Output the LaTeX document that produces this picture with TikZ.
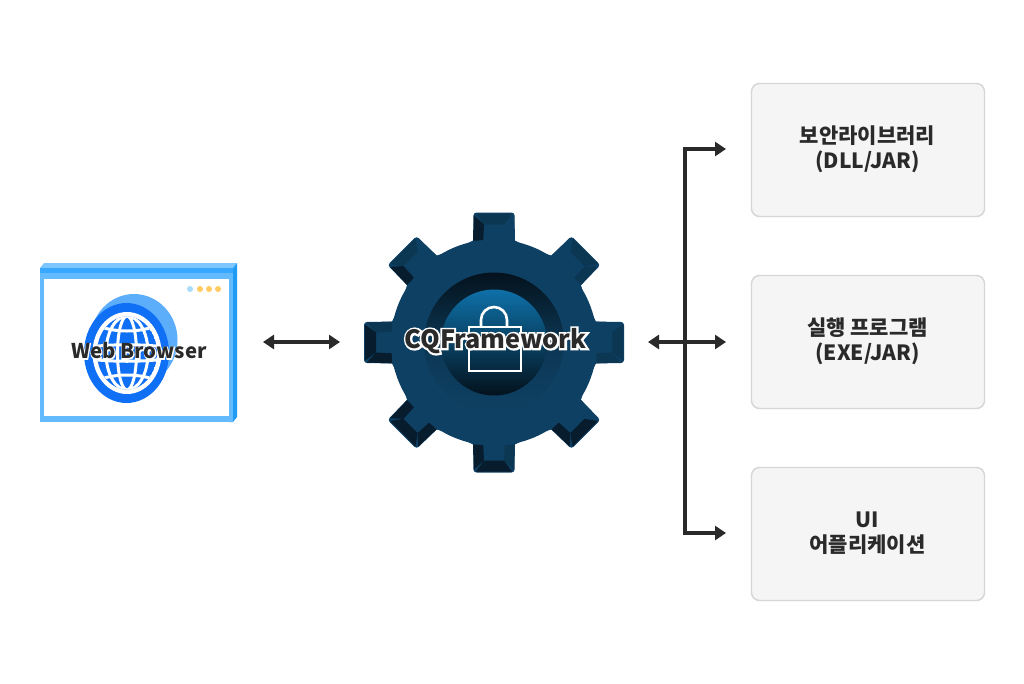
\documentclass[tikz,border=0pt]{standalone}
\usepackage{fontspec}
\setmainfont{Noto Sans CJK KR}
\newfontfamily\gearhalo[UprightFont=* Bold,FakeBold=15]{Noto Sans CJK KR}
\newfontfamily\webhalo[UprightFont=* Bold,FakeBold=8]{Noto Sans CJK KR}
\usetikzlibrary{arrows.meta,shapes.geometric}
\definecolor{ink}{HTML}{2A2A2A}
\definecolor{gearbase}{HTML}{0E4064}
\definecolor{geardk}{HTML}{071C2C}
\definecolor{gearmd}{HTML}{0C3753}
\definecolor{gearnight}{HTML}{04121D}
\definecolor{gearsky}{HTML}{0E70A8}
\definecolor{boxfill}{HTML}{F5F5F5}
\definecolor{boxline}{HTML}{D6D6D6}
\definecolor{skyA}{HTML}{7CC6FF}
\definecolor{skyB}{HTML}{38A8FF}
\definecolor{skyC}{HTML}{64BAFF}
\definecolor{skyD}{HTML}{1E9BF2}
\definecolor{globeblue}{HTML}{0F70F5}
\definecolor{globeback}{HTML}{5CAEFB}
\definecolor{dotA}{HTML}{A9DBFA}
\definecolor{dotB}{HTML}{FFCB62}
\newcommand{\halotext}[2]{\rlap{\color{white}#1#2}#2}
\tikzset{
  x=1pt,y=-1pt,
  link/.style={draw=ink,line width=3.5pt},
  twoway/.style={link,{Triangle[length=11pt,width=14pt]}-{Triangle[length=11pt,width=14pt]}},
  oneway/.style={link,-{Triangle[length=11pt,width=14pt]}},
  target/.style={draw=boxline,line width=1.4pt,fill=boxfill,rounded corners=8pt,minimum width=233pt,minimum height=133pt,inner sep=0pt},
  targettext/.style={font=\fontsize{21}{25}\selectfont\bfseries,text=ink,align=center},
  halolabel/.style={text=ink,inner sep=0pt},
  gridline/.style={white,line width=3pt},
}
\begin{document}
\begin{tikzpicture}
\useasboundingbox (0,0) rectangle (1024,683);
\fill[white] (0,0) rectangle (1024,683);
% ---- browser window
\fill[skyD] (229,268) -- (237,263) -- (237,417) -- (233,422) -- (229,422) -- cycle;
\fill[skyA] (40,268) -- (44,263) -- (237,263) -- (233,268) -- cycle;
\fill[skyC] (40,268) rectangle (233,422);
\fill[skyB] (40,268) rectangle (233,273);
\fill[white] (44,279) rectangle (229,416);
\fill[dotA] (190,289) circle (3);
\foreach \px in {200,209,218} \fill[dotB] (\px,289) circle (3);
% ---- globe
\fill[globeback] (134,340) ellipse [x radius=43.5,y radius=46];
\fill[globeblue] (126.5,353) ellipse [x radius=42.5,y radius=50];
\fill[white] (127,353) ellipse [x radius=34.5,y radius=41];
\begin{scope}
\clip (127,353) ellipse [x radius=30,y radius=36.5];
\fill[globeblue] (127,353) ellipse [x radius=30,y radius=36.5];
\draw[gridline] (127,353) ellipse [x radius=9.5,y radius=37];
\draw[gridline] (127,353) ellipse [x radius=21,y radius=37];
\draw[gridline] (90,347) .. controls (110,344) and (144,344) .. (164,347);
\draw[gridline] (90,359) .. controls (110,362) and (144,362) .. (164,359);
\draw[gridline] (90,322) .. controls (110,334) and (144,334) .. (164,322);
\draw[gridline] (90,384) .. controls (110,372) and (144,372) .. (164,384);
\end{scope}
\node[halolabel,font=\fontsize{20.3}{24}\selectfont\bfseries] (web) at (139,351) {\halotext{\webhalo}{Web Browser}};
% ---- gear
\begin{scope}[shift={(494,342.5)}]
\foreach \a/\cc/\lc/\rc in {
  0/gearmd/geardk/gearbase,
  45/gearmd/geardk/gearbase,
  90/geardk/geardk/gearmd,
  135/geardk/geardk/geardk,
  180/geardk/gearmd/geardk,
  225/geardk/gearbase/geardk,
  270/gearmd/gearbase/gearmd,
  315/gearmd/gearbase/gearmd}{
  \begin{scope}[rotate=\a]
    \fill[gearbase,rounded corners=3pt] (-21,-96) -- (-20.5,-130) -- (20.5,-130) -- (21,-96) -- cycle;
    \fill[\cc] (-18,-129) -- (18,-129) -- (10,-118) -- (-10,-118) -- cycle;
    \fill[\lc] (-20,-127) -- (-10,-118) -- (-11,-98) -- (-21,-98) -- cycle;
    \fill[\rc] (20,-127) -- (10,-118) -- (11,-98) -- (21,-98) -- cycle;
  \end{scope}}
\foreach \a in {0,45,...,315}
  \fill[gearbase,rotate=\a] (-21,-102) -- (21,-102) -- (36,-94) -- (-36,-94) -- cycle;
\fill[gearbase] (0,0) circle (103);
\shade[top color=gearnight,bottom color=gearbase,middle color=gearmd] (0,0) circle (70);
\shade[shading angle=-25,top color=gearsky,middle color=gearbase,bottom color=gearnight] (0,0) circle (53);
\end{scope}
\draw[white,line width=2.6pt] (469,327) rectangle (521,371);
\draw[white,line width=2.6pt] (481,327) -- (481,320) arc[start angle=180,end angle=360,radius=13] -- (507,327);
\node[halolabel,font=\fontsize{25.2}{30}\selectfont\bfseries] (gear) at (495.5,341) {\halotext{\gearhalo}{CQFramework}};
% ---- targets
\node[target] (lib) at (868,150) {};
\node[target] (exe) at (868,342) {};
\node[target] (ui) at (868,534) {};
\node[targettext] (libtext) at (867.5,149.5) {보안라이브러리\\(DLL/JAR)};
\node[targettext] (exetext) at (867.5,341.5) {실행 프로그램\\(EXE/JAR)};
\node[targettext] (uitext) at (867.5,533.5) {UI\\어플리케이션};
% ---- connectors
\coordinate (webE) at (263,342);
\coordinate (gearW) at (340,342);
\coordinate (gearE) at (648,342);
\coordinate (busT) at (685,149);
\coordinate (busB) at (685,533);
\coordinate (libW) at (726,149);
\coordinate (exeW) at (726,342);
\coordinate (uiW) at (726,533);
\draw[twoway] (webE) -- (gearW);
\draw[twoway] (gearE) -- (exeW);
\draw[oneway] (busT) -- (libW);
\draw[oneway] (busB) -- (uiW);
\draw[link,line cap=butt] ([yshift=1.7pt]busT) -- ([yshift=-1.7pt]busB);
\end{tikzpicture}
\end{document}
